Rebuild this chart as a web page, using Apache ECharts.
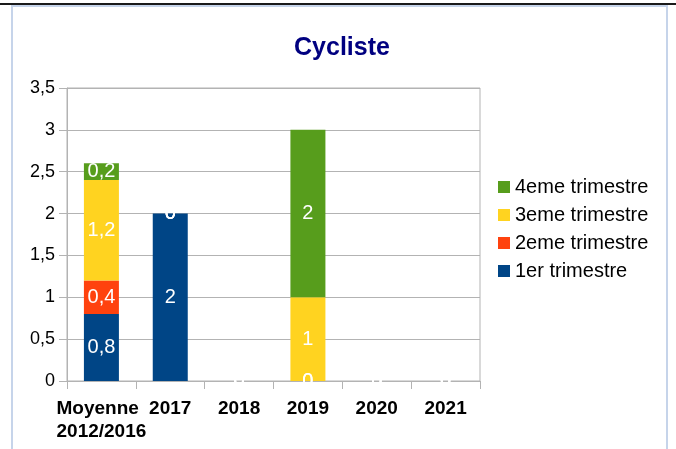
<!DOCTYPE html>
<html>
<head>
<meta charset="utf-8">
<script src="https://cdn.jsdelivr.net/npm/echarts@6/dist/echarts.min.js"></script>
<style>
  html, body { margin: 0; padding: 0; background: #fff; }
  #topline { position: absolute; left: 0; top: 3px; width: 676px; height: 2px; background: #1a1a1a; }
  #frame { position: absolute; left: 11px; top: 5px; width: 657px; height: 460px;
           border: 2px solid #c6d4ea; box-sizing: border-box; }
  #chart { position: absolute; left: 0; top: 0; width: 676px; height: 449px; }
</style>
</head>
<body>
<div id="topline"></div>
<div id="frame"></div>
<div id="chart"></div>
<script>
const categories = ['Moyenne\n2012/2016', '2017', '2018', '2019', '2020', '2021']
const seriesNames = ['1er trimestre', '2eme trimestre', '3eme trimestre', '4eme trimestre']
const q1 = [0.8, 2, 0, 0, 0, 0]
const q2 = [0.4, 0, 0, 0, 0, 0]
const q3 = [1.2, 0, 0, 1, 0, 0]
const q4 = [0.2, 0, 0, 2, 0, 0]
const colors = ['#004586', '#ff420e', '#ffd320', '#579d1c']

const comma = (v) => String(v).replace('.', ',')

const chart = echarts.init(document.getElementById('chart'))

const series = [q1, q2, q3, q4].map((data, i) => {
  return {
    type: 'bar',
    name: seriesNames[i],
    stack: 'total',
    data: data,
    barWidth: 35,
    itemStyle: { color: colors[i] },
    label: {
      show: true,
      position: 'inside',
      color: '#ffffff',
      fontSize: 20,
      fontFamily: 'Liberation Sans',
      formatter: (p) => comma(p.value)
    }
  }
})

const catFont = {
  fontSize: 19,
  fontWeight: 'bold',
  color: '#000000',
  lineHeight: 23,
  fontFamily: 'Liberation Sans'
}

chart.setOption({
  animation: false,
  title: {
    text: 'Cycliste',
    left: 337,
    textAlign: 'center',
    top: 31,
    textStyle: {
      color: '#000080',
      fontSize: 25,
      fontWeight: 'bold',
      fontFamily: 'Liberation Sans'
    }
  },
  legend: {
    orient: 'vertical',
    left: 498,
    top: 177,
    padding: 0,
    itemWidth: 12,
    itemHeight: 12,
    itemGap: 8,
    icon: 'rect',
    data: seriesNames.slice().reverse(),
    textStyle: {
      fontSize: 20,
      color: '#000000',
      fontFamily: 'Liberation Sans'
    }
  },
  grid: {
    left: 67,
    right: 196,
    top: 88,
    bottom: 68,
    show: true,
    borderColor: '#b3b3b3',
    borderWidth: 1
  },
  xAxis: {
    type: 'category',
    data: categories,
    axisLine: { lineStyle: { color: '#b3b3b3' } },
    axisTick: { show: true, length: 8, lineStyle: { color: '#b3b3b3' } },
    axisLabel: {
      margin: 16,
      ...catFont,
      interval: 0,
      // multi-line label is left-aligned like the original
      formatter: (v) => v.split('\n').map((s) => '{l|' + s + '}').join('\n'),
      rich: {
        l: { ...catFont, align: 'left' }
      }
    }
  },
  yAxis: {
    type: 'value',
    min: 0,
    max: 3.5,
    interval: 0.5,
    axisLine: { show: true, lineStyle: { color: '#b3b3b3' } },
    axisTick: { show: true, length: 8, lineStyle: { color: '#b3b3b3' } },
    splitLine: { lineStyle: { color: '#b3b3b3' } },
    axisLabel: {
      margin: 12,
      fontSize: 18,
      color: '#000000',
      fontFamily: 'Liberation Sans',
      formatter: (v) => comma(v)
    }
  },
  series: series
})
</script>
</body>
</html>
